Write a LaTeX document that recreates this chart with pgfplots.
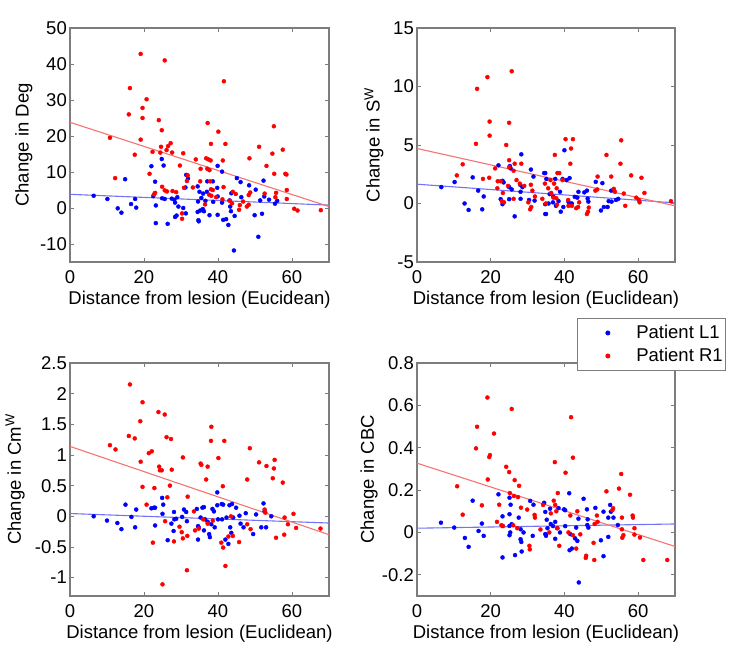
\documentclass[border=0pt]{standalone}
\usepackage{pgfplots}
\pgfplotsset{compat=1.18}
\usepackage{fontspec}
\setmainfont{Liberation Sans}
\newcommand\fs{\fontsize{18.5}{22}\selectfont}

\definecolor{lred}{RGB}{245,115,115}
\definecolor{lblue}{RGB}{115,115,245}
\definecolor{frame}{RGB}{125,125,125}

\pgfplotsset{
  panel/.style={
    scale only axis, width=259pt, height=234pt, anchor=south west,
    xmin=0, xmax=70, xtick={0,20,40,60},
    tick align=inside, major tick length=4pt,
    axis line style={frame, line width=1.2pt},
    every tick/.style={frame, line width=0.8pt},
    tick label style={font=\fs}, label style={font=\fs},
    xticklabel style={anchor=center, yshift=-15pt},
    yticklabel style={anchor=east, inner xsep=0pt, xshift=-3pt},
    xlabel style={at={(rel axis cs:0.5,0)}, anchor=center, yshift=-38pt},
    xlabel={Distance from lesion (Euclidean)},
    /pgf/number format/assume math mode=true,
  },
  ylab/.style={ylabel style={at={(rel axis cs:#1,0.5)}, anchor=center}},
  dotimg/.style={legend image code/.code={\path (0pt,0pt) (55pt,0pt);
      \draw[##1, mark repeat=2, mark phase=2] plot coordinates {(0pt,0pt)(28pt,0pt)(55pt,0pt)};}},
  dotL/.style={only marks, mark=*, mark size=2pt, color=blue, dotimg},
  dotR/.style={only marks, mark=*, mark size=2pt, color=red, dotimg},
  fitR/.style={no marks, color=lred, line width=1.1pt, forget plot},
  fitL/.style={no marks, color=lblue, line width=1.1pt, forget plot},
}

\begin{document}
\begin{tikzpicture}
\path[use as bounding box] (0,0) rectangle (733pt,647pt);

% Deg
\begin{axis}[panel, at={(70pt,385pt)}, ymin=-15, ymax=50, ytick={-10,0,...,50},
  xlabel={Distance from lesion (Eucidean)}, ylabel={Change in Deg}, ylab=-0.178]
\addplot[dotL] coordinates {
(24.8,13.6)(22.0,11.6)(25.3,11.8)(23.0,7.3)(14.9,8.0)(31.4,9.2)(31.9,8.2)(31.2,5.7)(6.4,3.4)(10.1,2.5)
(17.6,2.5)(22.5,3.3)(24.9,2.7)(25.6,2.5)(27.5,2.6)(28.2,2.3)(29.0,3.0)(12.9,-0.1)(13.9,-1.3)(16.5,1.1)
(17.9,0.1)(23.2,0.7)(28.4,1.5)(29.3,0.4)(30.6,0.0)(23.2,-4.2)(26.4,-4.4)(28.4,-2.5)(28.8,-2.1)(34.5,-1.1)
(34.8,-3.7)(31.3,-1.5)(39.9,11.7)(41.1,10.1)(37.1,7.4)(38.6,7.4)(45.1,8.3)(46.1,7.2)(48.4,6.3)(52.3,7.6)
(39.8,5.6)(43.6,4.1)(46.3,3.0)(50.2,5.1)(51.4,2.1)(52.5,3.2)(53.8,2.3)(55.4,1.2)(39.9,3.2)(38.7,1.7)
(41.1,1.5)(43.1,2.1)(35.9,-0.3)(37.7,-2.0)(39.9,-1.9)(41.4,-3.3)(42.2,-3.1)(42.8,-4.7)(43.5,-0.9)(49.9,-2.0)
(51.9,-1.6)(50.9,-8.0)(44.3,-11.8)(34.7,-3.4)(35.2,-0.7)(34.5,6.0)(35.0,4.5)(35.5,2.8)(36.0,4.0)(36.6,2.0)
(37.0,4.5)(34.6,1.8)(36.2,-0.9)(44.5,-2.2)(43.3,0.4)(56.0,2.0)
};
\addplot[dotR] coordinates {
(19.1,42.8)(25.6,41.0)(16.2,33.3)(20.7,30.2)(19.6,27.8)(15.9,26.0)(19.6,25.0)(24.0,24.4)(24.8,21.6)(10.8,19.5)
(19.1,19.0)(17.5,14.8)(22.3,15.6)(24.6,17.0)(26.1,16.1)(26.5,17.2)(27.2,18.0)(27.6,15.4)(24.4,15.4)(30.6,15.2)
(34.0,13.5)(29.7,11.8)(21.5,9.5)(12.2,8.3)(31.8,9.1)(31.6,7.5)(30.8,5.6)(33.2,5.7)(24.9,5.9)(25.6,4.9)
(26.2,4.6)(27.7,4.7)(28.7,4.4)(23.0,4.2)(22.7,3.8)(30.3,-1.5)(30.3,-3.0)(41.6,35.2)(37.2,23.6)(40.1,21.2)
(55.1,22.7)(38.1,17.8)(42.0,17.8)(51.1,17.0)(54.7,15.1)(57.5,16.2)(36.8,13.8)(37.4,13.5)(38.0,13.2)(35.3,10.9)
(37.1,10.9)(37.7,10.5)(41.3,13.2)(48.5,13.8)(53.1,11.7)(55.2,9.5)(58.2,9.5)(58.5,9.3)(35.2,7.4)(37.9,7.4)
(38.1,5.2)(38.6,5.0)(41.5,5.8)(48.7,4.3)(37.6,3.7)(38.2,3.4)(44.8,3.9)(48.3,3.6)(48.3,0.9)(52.6,4.0)
(55.7,4.2)(58.6,5.0)(58.6,2.5)(41.2,2.4)(43.2,2.0)(43.8,1.3)(45.9,0.8)(45.7,-0.5)(47.8,0.4)(46.8,1.8)
(60.6,-0.2)(61.5,-0.7)(67.8,-0.6)(55.5,3.0)(36.5,1.0)(39.5,3.0)(44.0,4.5)
};
\addplot[fitL] coordinates {(0,3.8)(70,0.8)};
\addplot[fitR] coordinates {(0,23.8)(70,0.4)};
\end{axis}

% S^W
\begin{axis}[panel, at={(417pt,385pt)}, width=258pt, ymin=-5, ymax=15, ytick={-5,0,5,10,15},
  ylabel={Change in S\textsuperscript{W}}, ylab=-0.167]
\addplot[dotL] coordinates {
(6.6,1.4)(10.2,1.83)(15.1,2.23)(12.9,0.0)(14.0,-0.55)(17.7,-0.5)(16.6,1.1)(18.1,0.6)(22.1,3.26)(25.2,3.2)
(25.4,3.0)(28.3,4.2)(23.2,1.94)(23.5,1.8)(22.7,0.37)(23.2,-0.06)(25.0,1.4)(25.7,1.2)(25.0,0.37)(26.5,-1.1)
(28.0,1.6)(28.6,1.4)(28.1,1.0)(28.1,0.4)(30.9,2.9)(31.6,2.3)(30.4,0.3)(31.9,0.25)(34.5,2.6)(34.8,-0.06)
(34.8,-0.9)(40.0,4.55)(34.8,2.6)(35.1,2.1)(37.5,2.1)(39.5,2.1)(41.4,2.17)(40.6,2.0)(48.5,1.85)(50.3,1.74)
(46.1,1.1)(43.8,1.0)(45.4,0.95)(52.7,1.1)(35.7,0.0)(36.9,0.1)(37.7,-0.2)(38.4,0.2)(39.0,-0.7)(39.7,-0.3)
(35.0,-0.9)(42.8,0.57)(43.5,0.5)(46.3,0.42)(46.5,0.16)(52.0,0.2)(52.8,0.16)(54.0,0.3)(54.6,0.4)(49.9,-0.6)
(50.7,-0.3)(51.7,-0.3)(41.1,0.14)(42.0,0.0)(36.0,0.8)(37.0,0.6)(38.8,1.0)
};
\addplot[dotR] coordinates {
(25.7,11.3)(19.1,10.8)(16.3,9.8)(19.7,7.0)(25.0,6.9)(19.7,5.8)(16.0,5.1)(24.2,5.0)(12.4,3.35)(10.8,2.4)
(21.2,3.0)(25.0,3.7)(26.5,3.4)(28.3,3.4)(25.0,3.1)(26.2,2.8)(19.6,2.2)(17.9,2.1)(21.9,1.9)(22.7,1.9)
(24.7,1.5)(21.8,1.3)(23.3,0.9)(23.0,0.2)(23.6,0.1)(26.2,0.4)(27.9,1.7)(29.1,1.5)(30.9,1.6)(31.3,1.1)
(30.2,0.1)(31.0,-0.3)(30.7,-0.5)(32.0,0.6)(34.0,0.4)(34.7,1.7)(27.0,2.0)(40.3,5.5)(42.3,5.5)(55.4,5.4)
(37.4,4.15)(41.8,4.7)(51.4,4.15)(41.6,3.4)(55.2,3.4)(58.1,2.4)(60.9,2.2)(61.7,0.9)(38.1,2.6)(38.6,2.6)
(36.2,2.0)(37.2,1.7)(37.9,1.3)(41.1,-0.2)(42.0,-0.2)(43.2,-0.4)(43.7,-0.3)(46.1,-0.9)(46.4,-0.7)(46.6,-0.35)
(48.4,1.1)(48.9,1.2)(53.4,1.25)(53.7,1.0)(56.1,0.85)(56.5,-0.2)(59.5,0.5)(60.2,0.3)(60.4,0.1)(68.9,0.2)
(35.6,1.3)(36.4,0.9)(37.0,0.5)(37.8,0.45)(39.5,2.0)(41.0,0.3)(49.0,2.3)(52.7,2.3)(35.0,0.0)(38.0,-0.1)
(44.0,0.1)
};
\addplot[fitL] coordinates {(0,1.65)(70,0.05)};
\addplot[fitR] coordinates {(0,4.7)(70,-0.2)};
\node[anchor=south west, font=\fs, inner sep=1pt] at (rel axis cs:0,1) {x 10\textsuperscript{7}};
\end{axis}

% Cm^W
\begin{axis}[panel, at={(70pt,51pt)}, height=233pt, ymin=-1.3, ymax=2.5,
  ytick={-1,-0.5,0,0.5,1,1.5,2,2.5}, ylabel={Change in Cm\textsuperscript{W}}, ylab=-0.212]
\addplot[dotL] coordinates {
(6.4,0.0)(10.0,-0.07)(12.8,-0.11)(13.9,-0.21)(15.0,0.19)(16.6,-0.01)(17.6,-0.18)(17.9,0.11)(22.0,0.13)(22.7,0.14)
(23.0,0.14)(24.9,0.30)(25.2,0.19)(23.0,-0.15)(25.0,0.04)(26.4,-0.39)(28.1,0.07)(28.2,-0.05)(28.7,-0.04)(27.4,-0.12)
(28.0,-0.24)(30.8,0.11)(31.4,0.07)(30.3,-0.01)(31.6,-0.08)(34.6,-0.16)(34.6,-0.38)(34.3,0.12)(39.8,0.39)(39.8,0.18)
(41.0,0.20)(41.4,0.19)(43.1,0.18)(43.8,0.20)(44.9,0.14)(35.8,0.14)(36.2,0.15)(38.5,0.12)(38.9,0.08)(52.3,0.21)
(50.3,0.03)(52.6,0.08)(54.4,0.0)(35.3,-0.02)(36.5,-0.05)(37.2,-0.09)(38.2,-0.13)(34.8,-0.18)(36.2,-0.23)(37.6,-0.29)
(37.8,-0.34)(39.1,-0.18)(40.0,-0.05)(41.1,-0.05)(42.3,-0.02)(44.1,-0.02)(45.8,0.01)(46.1,-0.12)(43.3,-0.18)(43.6,-0.27)
(46.9,-0.18)(49.5,-0.29)(51.7,-0.18)(53.0,-0.18)(42.8,-0.45)(42.0,-0.38)(47.5,0.05)
};
\addplot[dotR] coordinates {
(16.2,2.15)(19.6,1.86)(23.9,1.70)(25.6,1.66)(19.0,1.55)(15.9,1.31)(17.5,1.27)(26.1,1.29)(27.3,1.26)(10.8,1.16)
(12.3,1.09)(21.3,1.03)(22.1,1.06)(19.1,0.89)(30.5,0.96)(24.1,0.81)(24.8,0.75)(24.3,0.75)(27.5,0.76)(19.6,0.48)
(22.8,0.46)(27.0,0.50)(26.3,0.31)(20.7,0.19)(31.8,0.32)(33.5,0.08)(25.7,-0.08)(29.6,-0.17)(30.2,-0.26)(30.5,-0.36)
(31.7,-0.32)(33.8,-0.23)(22.4,-0.43)(28.1,-0.41)(31.6,-0.88)(25.0,-1.11)(38.2,1.46)(38.1,1.23)(41.7,1.23)(40.1,0.95)
(48.6,1.11)(35.3,0.86)(35.5,0.84)(37.2,0.81)(51.1,0.88)(53.1,0.82)(55.3,0.92)(55.1,0.78)(47.9,0.60)(54.8,0.62)
(57.5,0.55)(41.3,0.49)(36.8,0.60)(52.6,0.11)(52.8,0.06)(58.0,-0.02)(60.4,0.04)(58.9,-0.13)(61.1,-0.19)(67.7,-0.20)
(55.7,-0.35)(57.9,-0.30)(42.8,-0.33)(44.0,-0.32)(45.7,-0.42)(40.9,-0.43)(41.4,-0.51)(42.0,-0.81)(47.9,-0.13)(48.8,-0.21)
(38.6,-0.07)(37.2,-0.12)(36.0,-0.05)(43.5,0.0)(34.8,-0.2)
};
\addplot[fitL] coordinates {(0,0.045)(70,-0.11)};
\addplot[fitR] coordinates {(0,1.14)(70,-0.3)};
\end{axis}

% CBC
\begin{axis}[panel, at={(417pt,51pt)}, width=258pt, height=233pt, ymin=-0.3, ymax=0.8,
  ytick={-0.2,0,0.2,0.4,0.6,0.8}, ylabel={Change in CBC}, ylab=-0.186,
  legend style={at={(0.62,1.193)}, anchor=north west, draw=frame, line width=0.9pt,
    font=\fs, row sep=2pt, inner xsep=2pt, inner ysep=4pt,
    nodes={inner sep=1pt, text height=15pt, text depth=4pt}},
  legend cell align=left]
\addplot[dotL] coordinates {
(6.5,0.046)(10.1,0.023)(13.0,-0.026)(14.0,-0.068)(15.1,0.15)(16.7,0.007)(17.6,0.042)(18.1,-0.016)(22.1,0.18)(25.1,0.164)
(25.4,0.131)(23.2,-0.118)(23.2,0.076)(25.1,0.086)(27.6,0.07)(23.2,0.031)(25.1,0.031)(25.7,0.039)(25.1,-0.013)(25.3,0.0)
(26.6,-0.107)(28.1,-0.032)(28.3,-0.045)(28.4,-0.09)(28.1,0.015)(28.9,0.0)(30.7,0.149)(31.6,0.131)(31.4,-0.016)(34.5,0.14)
(34.8,0.097)(34.8,-0.008)(35.0,-0.016)(41.3,0.185)(45.2,0.159)(36.1,0.112)(38.4,0.115)(39.9,0.109)(40.2,0.105)(46.1,0.109)
(48.4,0.116)(50.6,0.098)(52.4,0.13)(52.6,0.098)(53.3,0.07)(51.9,0.07)(54.5,0.035)(43.8,0.065)(46.3,0.062)(46.2,0.035)
(35.2,0.06)(36.3,0.04)(37.5,0.05)(35.4,0.02)(36.9,0.03)(38.1,0.02)(38.8,0.0)(40.2,0.03)(35.0,-0.01)(37.5,-0.03)
(43.2,0.023)(46.5,0.023)(41.6,-0.008)(42.9,-0.028)(43.5,-0.04)(49.9,-0.037)(51.9,-0.021)(41.4,-0.084)(42.0,-0.076)(50.6,-0.112)
(43.9,-0.236)
};
\addlegendentry{Patient L1\hspace{8pt}}
\addplot[dotR] coordinates {
(19.1,0.637)(25.7,0.583)(16.3,0.499)(20.9,0.467)(16.0,0.397)(19.8,0.365)(19.6,0.356)(24.2,0.31)(25.0,0.285)(26.5,0.247)
(27.7,0.22)(19.2,0.25)(10.9,0.218)(17.6,0.128)(12.4,0.084)(22.3,0.131)(25.2,0.186)(26.3,0.172)(27.4,0.167)(28.2,0.117)
(29.9,0.108)(21.7,0.05)(22.9,0.034)(23.3,0.03)(26.1,0.034)(27.2,0.02)(31.9,0.083)(32.0,0.07)(30.5,-0.063)(30.6,-0.08)
(34.2,0.13)(33.5,0.014)(41.8,0.544)(42.3,0.353)(37.4,0.332)(40.3,0.282)(55.4,0.276)(38.2,0.186)(51.4,0.194)(54.8,0.207)
(57.8,0.178)(53.2,0.114)(53.0,0.105)(58.5,0.08)(58.6,0.07)(55.6,0.07)(37.1,0.15)(37.5,0.13)(37.8,0.10)(36.3,0.09)
(41.6,0.08)(43.5,0.10)(48.8,0.08)(49.0,0.05)(48.2,0.04)(55.6,0.015)(56.0,-0.013)(55.7,-0.025)(59.0,0.02)(59.0,-0.01)
(60.5,-0.024)(61.4,-0.13)(67.9,-0.13)(47.9,-0.049)(45.9,-0.11)(45.8,-0.12)(48.1,-0.13)(38.6,-0.063)(41.1,0.0)(42.3,-0.013)
(43.2,-0.076)(44.3,-0.009)(35.9,0.0)(38.0,0.02)
};
\addlegendentry{Patient R1\hspace{8pt}}
\addplot[fitL] coordinates {(0,0.02)(70,0.04)};
\addplot[fitR] coordinates {(0,0.327)(70,-0.066)};
\end{axis}
\end{tikzpicture}
\end{document}
